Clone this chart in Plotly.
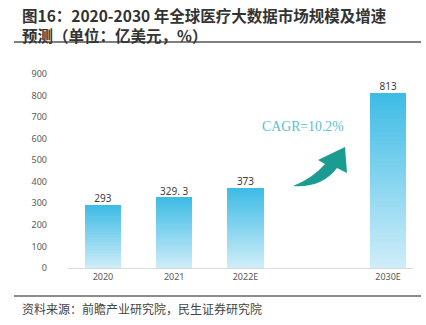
import plotly.graph_objects as go

categories = ["2020", "2021", "2022E", "2030E"]
values = [293, 329.3, 373, 813]
value_labels = ["293", "329. 3", "373", "813"]
x_slots = [0, 1, 2, 4]
y_ticks = [0, 100, 200, 300, 400, 500, 600, 700, 800, 900]

W, H = 426, 325
L, R, T, B = 68, 13, 74, 57

def lerp(c1, c2, t):
    return "rgb(%d,%d,%d)" % tuple(round(a + (b - a) * t) for a, b in zip(c1, c2))

top_c = (62, 188, 230)
bot_c = (206, 237, 248)
N = 40

fig = go.Figure()
for i in range(N):
    t = i / (N - 1)
    fig.add_trace(go.Bar(
        x=x_slots,
        y=[v / N for v in values],
        base=[v * i / N for v in values],
        width=0.51,
        marker=dict(color=lerp(bot_c, top_c, t), line=dict(width=0)),
        hoverinfo="skip",
        showlegend=False,
    ))

fig.add_trace(go.Scatter(
    x=x_slots, y=values, mode="text", text=value_labels,
    textposition="top center",
    textfont=dict(size=10, color="#404040", family="Noto Sans, Arial"),
    showlegend=False, hoverinfo="skip", cliponaxis=False,
))

def px(xp, yp):
    return ((xp - L) / (W - L - R), (H - B - yp) / (H - T - B))

def path(points_cmds):
    out = []
    for cmd, pts in points_cmds:
        coords = []
        for (a, b) in pts:
            xx, yy = px(a, b)
            coords.append("%.4f,%.4f" % (xx, yy))
        out.append(cmd + " " + " ".join(coords))
    return " ".join(out) + " Z"

arrow = path([
    ("M", [(293, 186)]),
    ("Q", [(313, 178), (325, 164)]),
    ("L", [(318, 160)]),
    ("L", [(345, 147)]),
    ("L", [(347, 173)]),
    ("L", [(337, 168)]),
    ("Q", [(322, 188), (293, 186)]),
])

def hline(ypix, color):
    x0, y0 = px(14, ypix)
    x1, _ = px(421, ypix)
    return dict(type="line", xref="paper", yref="paper", x0=x0, x1=x1, y0=y0, y1=y0,
                line=dict(color=color, width=1.5))

shapes = [
    dict(type="path", xref="paper", yref="paper", path=arrow,
         fillcolor="#1a9c90", line=dict(width=0)),
    hline(42, "#555555"),
    hline(296, "#666666"),
]

def txt(text, xpix, ypix, size, color, family, xanchor="left", yanchor="middle"):
    x, y = px(xpix, ypix)
    return dict(text=text, xref="paper", yref="paper", x=x, y=y,
                xanchor=xanchor, yanchor=yanchor, showarrow=False, align="left",
                borderpad=0,
                font=dict(size=size, color=color, family=family))

annotations = [
    txt("<b>图16：2020-2030 年全球医疗大数据市场规模及增速</b><br><b>预测（单位：亿美元，%）</b>",
        21, 3, 15.5, "#333333", "Noto Sans CJK SC", yanchor="top"),
    txt("资料来源：前瞻产业研究院，民生证券研究院", 21, 308, 12, "#444444", "Noto Sans CJK SC"),
    txt("CAGR=10.2%", 303, 126, 13.8, "#5cc0cc", "Liberation Serif", xanchor="center"),
]

fig.update_layout(
    width=W, height=H,
    margin=dict(l=L, r=R, t=T, b=B),
    paper_bgcolor="white", plot_bgcolor="white",
    barmode="overlay", bargap=0,
    shapes=shapes, annotations=annotations,
    xaxis=dict(range=[-0.49, 4.35], tickmode="array", tickvals=x_slots, ticktext=categories,
               showgrid=False, zeroline=False, showline=True, linecolor="#d9d9d9", linewidth=1,
               ticks="", tickfont=dict(size=9, color="#595959", family="Noto Sans, Arial"),
               fixedrange=True),
    yaxis=dict(range=[0, 900], tickmode="array", tickvals=y_ticks,
               showgrid=False, zeroline=False, showline=False, ticks="",
               ticklabelstandoff=20,
               tickfont=dict(size=9, color="#595959", family="Noto Sans, Arial"),
               fixedrange=True),
)

fig.write_html("out.html")
